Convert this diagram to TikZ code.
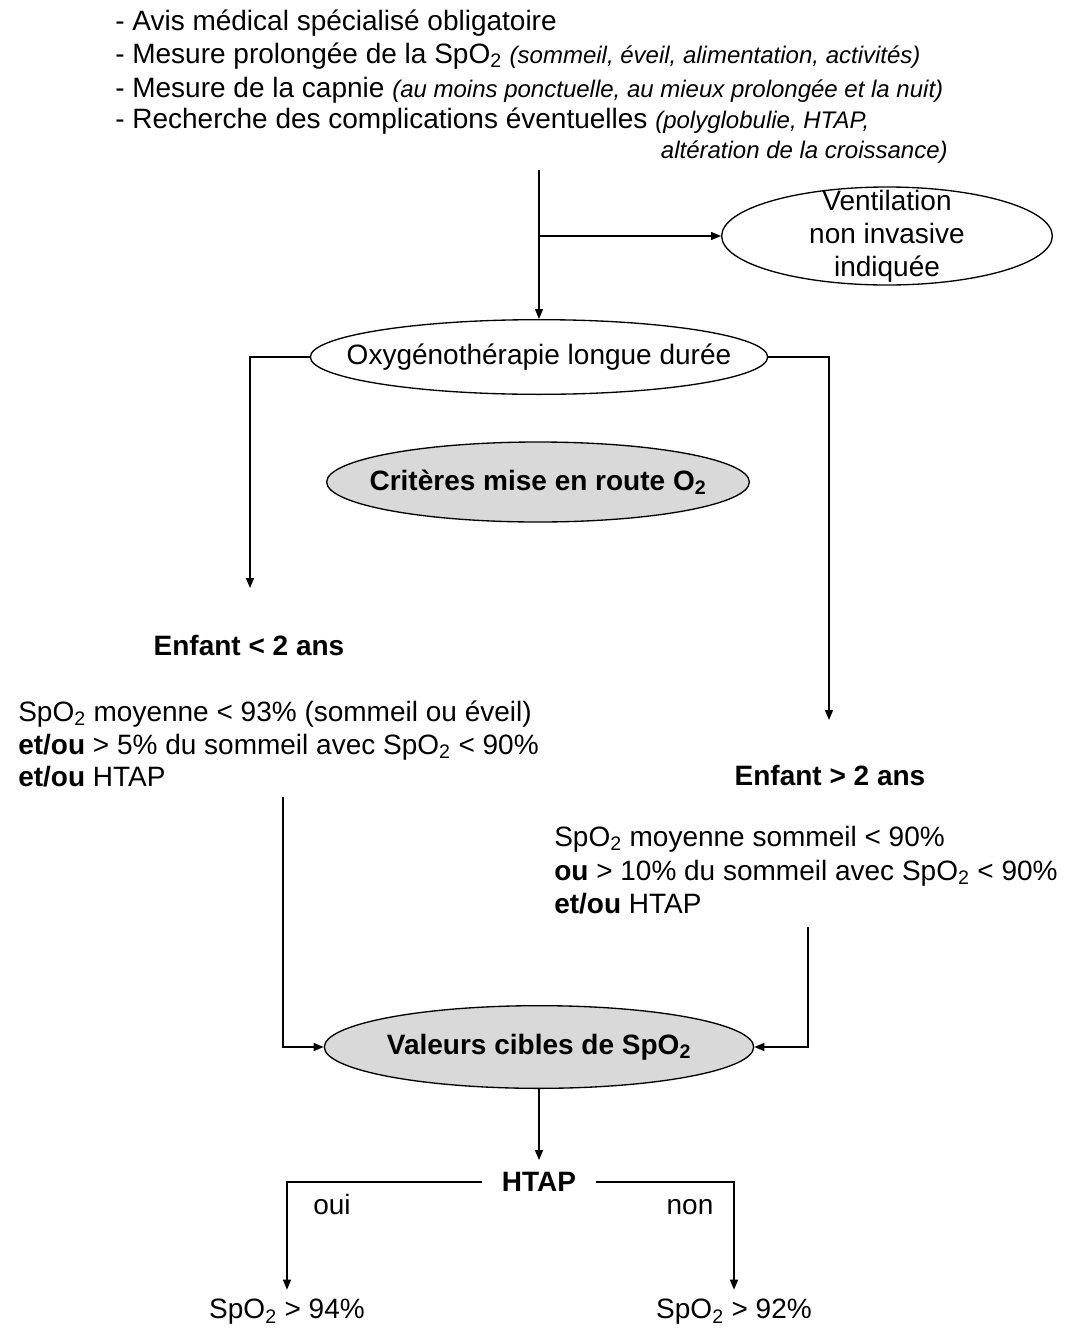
\documentclass[tikz,border=0pt]{standalone}
\usepackage{fontspec}
\setmainfont{Liberation Sans}
\usetikzlibrary{shapes.geometric,arrows.meta}
\newcommand\sous[1]{\textsubscript{#1}}
\newcommand\petit[1]{{\fontsize{18pt}{20pt}\selectfont\itshape #1}}
\begin{document}
\begin{tikzpicture}[x=0.75pt,y=-0.75pt,
  every node/.style={font=\fontsize{21pt}{24.75pt}\selectfont, inner sep=0pt},
  bold/.style={font=\fontsize{21pt}{24.75pt}\selectfont\bfseries},
  arr/.style={line width=1pt,-{Triangle[length=7.5pt,width=6pt]}},
  ell/.style={ellipse, draw, line width=1pt},
  gell/.style={ell, fill=gray!30},
  txt/.style={anchor=base west}]
\useasboundingbox[fill=white] (0,0) rectangle (1066,1328);

% top list
\node[txt] (t1) at (115,30) {- Avis médical spécialisé obligatoire};
\node[txt] (t2) at (115,63) {- Mesure prolongée de la SpO\sous{2} \petit{(sommeil, éveil, alimentation, activités)}};
\node[txt] (t3) at (115,97) {- Mesure de la capnie \petit{(au moins ponctuelle, au mieux prolongée et la nuit)}};
\node[txt] (t4) at (115,128) {- Recherche des complications éventuelles \petit{(polyglobulie, HTAP,}};
\node[anchor=base east] (t5) at (948,158) {\petit{altération de la croissance)}};

% ellipses (shape and text separately so the outline keeps its size)
\node[ell, minimum width=248pt, minimum height=73.5pt] (vent) at (887,236) {};
\node[align=center] (ventT) at (vent.center) {Ventilation\\non invasive\\indiquée};
\node[ell, minimum width=343pt, minimum height=56pt] (oxy) at (539,357) {};
\node (oxyT) at (oxy.center) {Oxygénothérapie longue durée};
\node[gell, minimum width=317pt, minimum height=60pt] (crit) at (538,482) {};
\node[bold] (critT) at (crit.center) {Critères mise en route O\sous{2}};

% left criteria
\node[bold] (enf1) at (249,645) {Enfant < 2 ans};
\node[txt] (l1) at (18,721) {SpO\sous{2} moyenne < 93\% (sommeil ou éveil)};
\node[txt] (l2) at (18,754) {\textbf{et/ou} > 5\% du sommeil avec SpO\sous{2} < 90\%};
\node[txt] (l3) at (18,786) {\textbf{et/ou} HTAP};

% right criteria
\node[bold] (enf2) at (830,775) {Enfant > 2 ans};
\node[txt] (r1) at (554,846) {SpO\sous{2} moyenne sommeil < 90\%};
\node[txt] (r2) at (554,880) {\textbf{ou} > 10\% du sommeil avec SpO\sous{2} < 90\%};
\node[txt] (r3) at (554,913) {\textbf{et/ou} HTAP};

% targets
\node[gell, minimum width=322pt, minimum height=62pt] (val) at (539,1047) {};
\node[bold] (valT) at (val.center) {Valeurs cibles de SpO\sous{2}};
\node[bold, inner xsep=15pt, inner ysep=9pt] (htap) at (539,1182) {HTAP};
\node[anchor=base] (oui) at (332,1214) {oui};
\node[anchor=base] (non) at (690,1214) {non};
\node[inner ysep=7pt] (r94) at (287,1312) {SpO\sous{2} > 94\%};
\node[inner ysep=7pt] (r92) at (734,1312) {SpO\sous{2} > 92\%};

% connectors
\coordinate (top) at (539,170);
\coordinate (br) at (539,236);
\coordinate (aL) at (250,588);
\coordinate (aR) at (829,720);
\coordinate (sL) at (283,797);
\coordinate (sR) at (808,927);
\draw[arr] (top) -- (oxy.north);
\draw[arr] (br) -- (vent.west);
\draw[arr] (oxy.west) -| (aL);
\draw[arr] (oxy.east) -| (aR);
\draw[arr] (sL) |- (val.west);
\draw[arr] (sR) |- (val.east);
\draw[arr] (val.south) -- (htap.north);
\draw[arr] (htap.west) -| (r94.north);
\draw[arr] (htap.east) -| (r92.north);
\end{tikzpicture}
\end{document}
